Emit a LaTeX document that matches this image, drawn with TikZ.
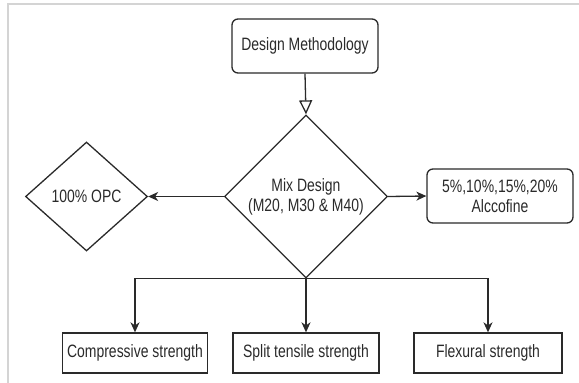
\documentclass[tikz,border=0pt]{standalone}
\usepackage{fontspec}
\setmainfont{Liberation Sans}[FakeStretch=0.78]
\usetikzlibrary{shapes.geometric,arrows.meta}
\definecolor{ink}{HTML}{2A2A2A}
\definecolor{framegray}{HTML}{D4D4D4}
\tikzset{
  base/.style={draw=ink, line width=1.3pt, text=ink, inner sep=0pt, align=center,
    font=\fontsize{17.9}{20}\selectfont},
  roundbox/.style={base, rectangle, rounded corners=6pt},
  plainbox/.style={base, rectangle},
  decision/.style={base, diamond},
  conn/.style={draw=ink, line width=1.3pt, -{Stealth[length=10pt,width=9pt,inset=3pt]}},
  openconn/.style={draw=ink, line width=1.3pt, -{Triangle[open,length=14pt,width=13pt]}}
}
\begin{document}
\begin{tikzpicture}[x=1pt,y=-1pt]
\useasboundingbox (0,0) rectangle (579,383);
\draw[framegray, line width=1.6pt] (8,383) -- (8,4) -- (579,4);

\node[roundbox, minimum width=146pt, minimum height=54pt] (dm) at (305,46) {Design Methodology};
\node[decision, minimum width=163pt, minimum height=163pt] (mix) at (306,196.5) {Mix Design\\(M20, M30 \& M40)};
\node[decision, minimum width=122pt, minimum height=109pt] (opc) at (86.5,196.5) {100\% OPC};
\node[roundbox, minimum width=146pt, minimum height=54pt] (alc) at (500,196) {5\%,10\%,15\%,20\%\\Alccofine};
\node[plainbox, minimum width=145pt, minimum height=40pt] (b1) at (135,353) {Compressive strength};
\node[plainbox, minimum width=146pt, minimum height=40pt] (b2) at (306,353) {Split tensile strength};
\node[plainbox, minimum width=148pt, minimum height=40pt] (b3) at (488,353) {Flexural strength};

\draw[openconn] (dm.south) -- (mix.north);
\draw[conn] (mix.west) -- (opc.east);
\draw[conn] (mix.east) -- (alc.west);
\draw[conn] (mix.south) -| (b1.north);
\draw[conn] (mix.south) -- (b2.north);
\draw[conn] (mix.south) -| (b3.north);
\end{tikzpicture}
\end{document}
